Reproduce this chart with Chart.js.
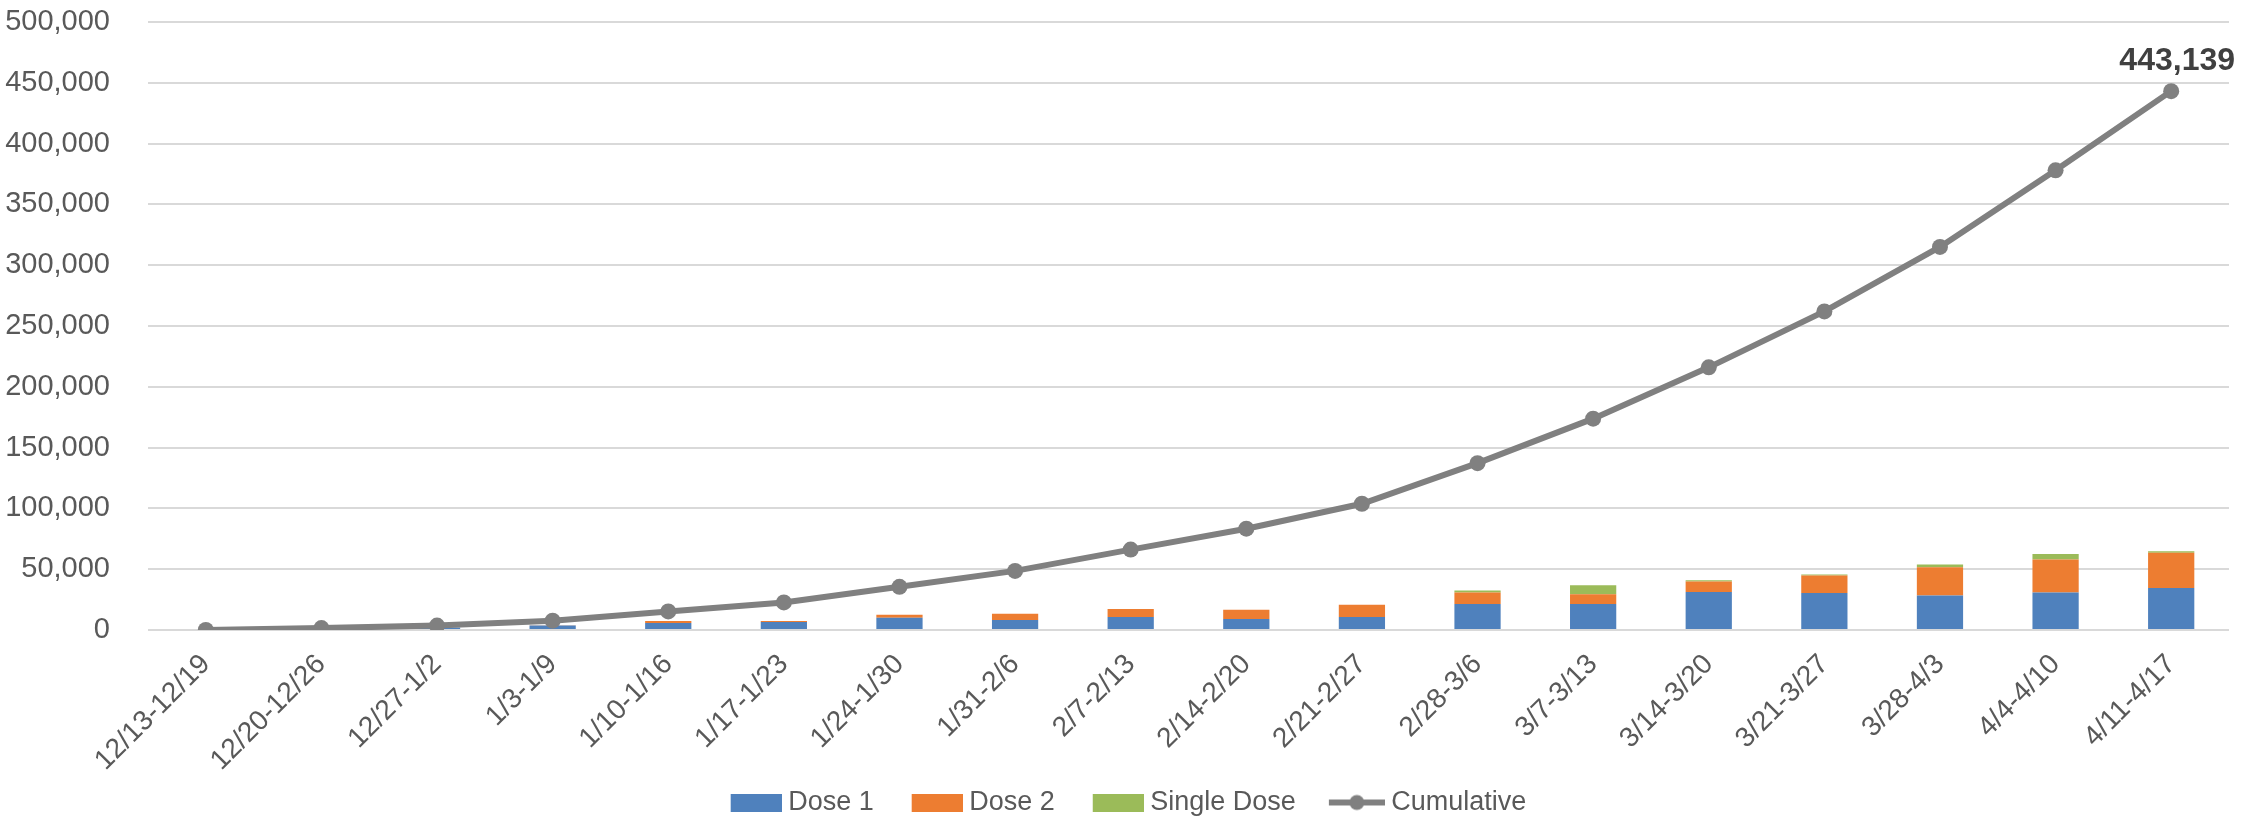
<!DOCTYPE html>
<html>
<head>
<meta charset="utf-8">
<script src="https://cdn.jsdelivr.net/npm/chart.js@4"></script>
<style>
  html, body { margin: 0; padding: 0; background: #fff; }
  #wrap { width: 2265px; height: 818px; }
</style>
</head>
<body>
<div id="wrap"><canvas id="chart" width="2265" height="818"></canvas></div>
<script>
// data
const weeks = ['12/13-12/19', '12/20-12/26', '12/27-1/2', '1/3-1/9', '1/10-1/16', '1/17-1/23',
    '1/24-1/30', '1/31-2/6', '2/7-2/13', '2/14-2/20', '2/21-2/27', '2/28-3/6', '3/7-3/13',
    '3/14-3/20', '3/21-3/27', '3/28-4/3', '4/4-4/10', '4/11-4/17'];
const dose1 = [0, 1500, 2000, 3600, 5800, 6500, 10100, 8200, 10700, 9000, 10700, 21300, 21400, 31300, 30500, 28300, 30800, 34600];
const dose2 = [0, 100, 0, 300, 1600, 900, 2400, 5200, 6500, 7700, 10100, 9600, 8100, 8500, 14300, 23300, 27200, 28900];
const singleDose = [0, 0, 0, 0, 0, 0, 0, 0, 0, 0, 0, 1600, 7200, 1100, 800, 2200, 4400, 1300];
const cumulative = [0, 1600, 3600, 7700, 15300, 22700, 35500, 48600, 66100, 83300, 103800, 137200, 173800, 216000, 262000, 315000, 378000, 443139];

const FONT = '"Liberation Sans", Arial, sans-serif';
const TEXT = '#595959';
const GRAY = '#808080';
// legend key images: blank gap on the left, key drawn at the right edge,
// image a bit wider than the slot so the text sits close to the key
const KEY_W = 86, KEY_SLOT = 72;

function boxImg(color) {
    const c = document.createElement('canvas');
    c.width = KEY_W; c.height = 18;
    const g = c.getContext('2d');
    g.fillStyle = color;
    g.fillRect(KEY_W - 51, 0, 51, 18);
    return c;
}
function lineImg() {
    const c = document.createElement('canvas');
    c.width = KEY_W; c.height = 18;
    const g = c.getContext('2d');
    const x0 = KEY_W - 56;
    g.strokeStyle = GRAY; g.lineWidth = 6;
    g.beginPath(); g.moveTo(x0, 9); g.lineTo(KEY_W, 9); g.stroke();
    g.fillStyle = GRAY;
    g.beginPath(); g.arc(x0 + 28, 9, 7.5, 0, Math.PI * 2); g.fill();
    return c;
}
const legendImgs = [boxImg('#4F81BD'), boxImg('#ED7D31'), boxImg('#9BBB59'), lineImg()];

// label above the last cumulative point
const lastLabel = {
    id: 'lastLabel',
    afterDatasetsDraw(chart) {
        const meta = chart.getDatasetMeta(3);
        const pt = meta.data[meta.data.length - 1];
        const ctx = chart.ctx;
        ctx.save();
        ctx.font = 'bold 32px ' + FONT;
        ctx.fillStyle = '#404040';
        ctx.textAlign = 'center';
        ctx.textBaseline = 'bottom';
        ctx.fillText(cumulative[cumulative.length - 1].toLocaleString('en-US'), pt.x + 6, pt.y - 14);
        ctx.restore();
    }
};

const barCommon = { type: 'bar', stack: 'doses', order: 1, barPercentage: 0.5, categoryPercentage: 0.8 };

new Chart(document.getElementById('chart').getContext('2d'), {
    data: {
        labels: weeks,
        datasets: [
            { ...barCommon, label: 'Dose 1', data: dose1, backgroundColor: '#4F81BD' },
            { ...barCommon, label: 'Dose 2', data: dose2, backgroundColor: '#ED7D31' },
            { ...barCommon, label: 'Single Dose', data: singleDose, backgroundColor: '#9BBB59' },
            { type: 'line', label: 'Cumulative', data: cumulative, stack: 'cum', order: 0,
              borderColor: GRAY, backgroundColor: GRAY, borderWidth: 6,
              pointRadius: 8, pointBackgroundColor: GRAY, pointBorderWidth: 0, tension: 0 }
        ]
    },
    options: {
        responsive: false,
        animation: false,
        layout: { padding: { top: 22, right: 36, left: 0, bottom: -8 } },
        plugins: {
            tooltip: { enabled: false },
            legend: {
                position: 'bottom',
                labels: {
                    font: { family: FONT, size: 27 },
                    color: TEXT,
                    usePointStyle: true,
                    pointStyleWidth: KEY_SLOT,
                    boxHeight: 18,
                    padding: 10,
                    sort: (a, b) => a.datasetIndex - b.datasetIndex,
                    generateLabels(chart) {
                        const items = Chart.defaults.plugins.legend.labels.generateLabels(chart);
                        items.forEach(it => { it.pointStyle = legendImgs[it.datasetIndex]; });
                        return items;
                    }
                }
            }
        },
        scales: {
            x: {
                stacked: true,
                grid: { display: false },
                border: { display: false },
                ticks: { font: { family: FONT, size: 28 }, color: TEXT, maxRotation: 45, minRotation: 45, autoSkip: false, padding: 10 },
                afterFit(scale) { scale.height = 149; }
            },
            y: {
                stacked: true,
                min: 0, max: 500000,
                grid: { color: '#D9D9D9', lineWidth: 2, drawTicks: false },
                border: { display: false },
                ticks: {
                    stepSize: 50000,
                    font: { family: FONT, size: 29 },
                    color: TEXT,
                    padding: 38,
                    callback: v => v.toLocaleString('en-US')
                },
                afterFit(scale) {
                    scale.width = 148;
                    scale.paddingTop = 0;
                    scale.paddingBottom = 0;
                }
            }
        }
    },
    plugins: [lastLabel]
});
</script>
</body>
</html>
